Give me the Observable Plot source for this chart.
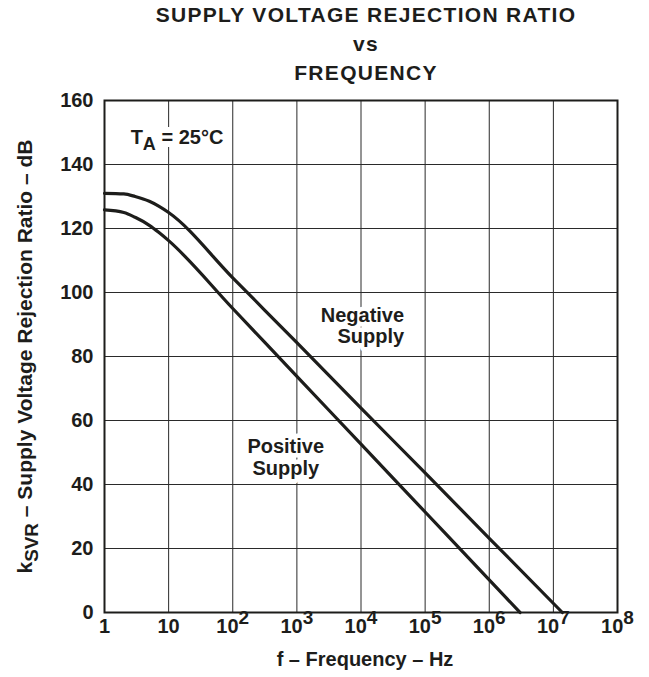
<!DOCTYPE html>
<html><head><meta charset="utf-8">
<script src="https://cdn.jsdelivr.net/npm/d3@7"></script>
<script src="https://cdn.jsdelivr.net/npm/@observablehq/plot@0.6"></script>
<style>body{margin:0;background:#fff}</style>
</head><body><div id="chart"></div>
<script>
// ---- data ----
const negFreq = [1, 2, 3, 5, 7, 10, 100, 1e3, 1e4, 1e5, 1e6, 1.38e7];
const negDb   = [131, 130.8, 130, 128.5, 127, 125, 104.6, 84.3, 63.9, 43.6, 23.2, 0];
const posFreq = [1, 2, 3, 5, 7, 10, 100, 1e3, 1e4, 1e5, 1e6, 3.02e6];
const posDb   = [125.8, 125, 123.5, 121, 118.8, 116.2, 95, 73.8, 52.6, 31.4, 10.2, 0];

const xTicks = [1, 10, 1e2, 1e3, 1e4, 1e5, 1e6, 1e7, 1e8];
const xTickLabels = ["1", "10", "10^{2}", "10^{3}", "10^{4}", "10^{5}", "10^{6}", "10^{7}", "10^{8}"];
const yTicks = [0, 20, 40, 60, 80, 100, 120, 140, 160];

const annLabels = ["T_{A} = 25°C", "Negative\nSupply", "Positive\nSupply"];
const annFreq   = [13.5, 4.7e4, 670];
const annDb     = [148.4, 89.7, 48.6];

const titleText = "SUPPLY VOLTAGE REJECTION RATIO\nvs\nFREQUENCY";
const xLabel = "f – Frequency – Hz";
const yLabel = "k_{SVR} – Supply Voltage Rejection Ratio – dB";

// ---- build tables ----
const neg = negFreq.map((f, i) => ({f, db: negDb[i]}));
const pos = posFreq.map((f, i) => ({f, db: posDb[i]}));
const ann = annLabels.map((label, i) => ({label, f: annFreq[i], db: annDb[i]}));

const ink = "#1d1d1b";
const halo = {stroke: "white", strokeWidth: 9, strokeLinejoin: "round", fill: ink};

const chart = Plot.plot({
  width: 649, height: 677,
  marginLeft: 104, marginRight: 32, marginTop: 100, marginBottom: 65,
  x: {type: "log", domain: [1, 1e8]},
  y: {domain: [0, 160]},
  style: {fontFamily: "'Liberation Sans', Arial, sans-serif", fontSize: "20px", fontWeight: "bold", color: ink, background: "white"},
  marks: [
    Plot.gridX({ticks: xTicks, stroke: "#2a2a2a", strokeOpacity: 1, strokeWidth: 1}),
    Plot.gridY({ticks: yTicks, stroke: "#2a2a2a", strokeOpacity: 1, strokeWidth: 1}),
    Plot.text([ann[0]], {x: "f", y: "db", text: "label", textAnchor: "middle", ...halo, strokeWidth: 12}),
    Plot.text([ann[1]], {x: "f", y: "db", text: "label", textAnchor: "end", lineHeight: 1.07, ...halo}),
    Plot.text([ann[2]], {x: "f", y: "db", text: "label", textAnchor: "middle", lineHeight: 1.07, ...halo}),
    Plot.frame({stroke: ink, strokeWidth: 2}),
    Plot.line(neg, {x: "f", y: "db", curve: "monotone-x", stroke: ink, strokeWidth: 3.2}),
    Plot.line(pos, {x: "f", y: "db", curve: "monotone-x", stroke: ink, strokeWidth: 3.2}),
    Plot.axisX({ticks: xTicks, tickSize: 0, tickPadding: 6, label: null,
      tickFormat: d => xTickLabels[xTicks.indexOf(d)]}),
    Plot.axisY({ticks: yTicks, tickSize: 0, tickPadding: 11, label: null}),
    Plot.text([xLabel], {frameAnchor: "bottom", dx: 4, dy: 53, fill: ink}),
    Plot.text([yLabel], {frameAnchor: "left", textAnchor: "middle", rotate: -90, dx: -79, fontSize: 21, fill: ink}),
    Plot.text([titleText], {frameAnchor: "top", textAnchor: "middle", dx: 5, dy: -99, lineAnchor: "top", lineHeight: 1.38, fontSize: 21, fill: ink})
  ]
});

// rich text: _{..} subscript, ^{..} superscript
const NS = "http://www.w3.org/2000/svg";
function richify(el) {
  if (el.children.length) return;
  const s = el.textContent;
  if (!/[_^]\{/.test(s)) return;
  const parts = s.split(/([_^]\{[^}]*\})/);
  el.textContent = "";
  let shift = 0;
  for (const p of parts) {
    if (!p) continue;
    const t = document.createElementNS(NS, "tspan");
    const m = p.match(/^([_^])\{([^}]*)\}$/);
    if (m) {
      const d = m[1] === "_" ? 6 : -9;
      t.setAttribute("dy", d - shift); shift = d;
      t.setAttribute("font-size", m[1] === "_" ? "0.9em" : "0.95em");
      t.textContent = m[2];
    } else {
      if (shift) { t.setAttribute("dy", -shift); shift = 0; }
      t.textContent = p;
    }
    el.appendChild(t);
  }
}
chart.querySelectorAll("text, tspan").forEach(richify);
chart.querySelectorAll("text").forEach(t => {
  if (t.textContent.startsWith("SUPPLY VOLTAGE")) t.style.letterSpacing = "1.3px";
});
document.getElementById("chart").appendChild(chart);
</script>
</body></html>
